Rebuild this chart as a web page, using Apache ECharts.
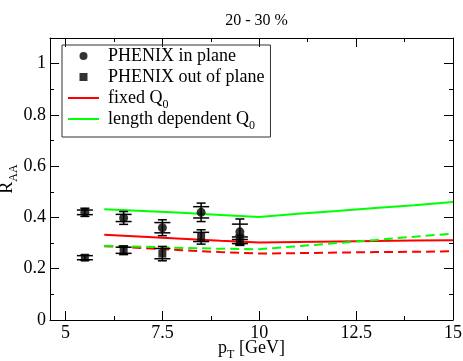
<!DOCTYPE html>
<html>
<head>
<meta charset="utf-8">
<script src="https://cdn.jsdelivr.net/npm/echarts@6/dist/echarts.min.js"></script>
<style>html,body{margin:0;padding:0;background:#fff}#c{width:463px;height:361px}</style>
</head>
<body>
<div id="c"></div>
<script>
// ---- data ----
const titleText = '20 - 30 %';
const phenixX = [5.5, 6.5, 7.5, 8.5, 9.5];
const inPlaneY = [0.42, 0.398, 0.36, 0.42, 0.344];
const inPlaneStat = [0.016, 0.025, 0.031, 0.036, 0.05];
const inPlaneSys = [0.009, 0.014, 0.02, 0.022, 0.03];
const outPlaneY = [0.243, 0.272, 0.259, 0.324, 0.311];
const outPlaneStat = [0.01, 0.017, 0.028, 0.028, 0.02];
const outPlaneSys = [0.008, 0.012, 0.02, 0.018, 0.013];
const theoryX = [6, 7, 8, 9, 10, 11, 12, 13, 14, 15];
const fixedSolid = [0.333, 0.325, 0.317, 0.309, 0.302, 0.304, 0.306, 0.308, 0.31, 0.311];
const lengthSolid = [0.432, 0.425, 0.418, 0.41, 0.402, 0.414, 0.425, 0.437, 0.448, 0.46];
const fixedDashed = [0.288, 0.281, 0.272, 0.265, 0.259, 0.261, 0.263, 0.265, 0.266, 0.268];
const lengthDashed = [0.29, 0.286, 0.281, 0.278, 0.276, 0.288, 0.3, 0.312, 0.325, 0.337];
const xMajor = [5, 7.5, 10, 12.5, 15];
const xMinor = [6.25, 8.75, 11.25, 13.75];
const yMajor = [0, 0.2, 0.4, 0.6, 0.8, 1];
const yMinor = [0.1, 0.3, 0.5, 0.7, 0.9];
const xMin = 4.6, xMax = 15, yMin = 0, yMax = 1.1;

const FONT = 'Liberation Serif';
const pair = (xs, ys) => xs.map((x, i) => [x, ys[i]]);
const errData = (ys, st, sy) => phenixX.map((x, i) => [x, ys[i], st[i], sy[i]]);

function xAx(pos, ticks, len, label, line) {
  return {
    type: 'value', position: pos, min: xMin, max: xMax,
    splitLine: {show: false},
    axisLine: {show: line, onZero: false, lineStyle: {color: '#000', width: 1}},
    axisTick: {show: true, inside: true, length: len, customValues: ticks, lineStyle: {color: '#000', width: 1}},
    axisLabel: label ? {show: true, customValues: ticks, margin: 4, color: '#000', fontFamily: FONT, fontSize: 18} : {show: false}
  };
}
function yAx(pos, ticks, len, label, line) {
  return {
    type: 'value', position: pos, min: yMin, max: yMax,
    splitLine: {show: false},
    axisLine: {show: line, onZero: false, lineStyle: {color: '#000', width: 1}},
    axisTick: {show: true, inside: true, length: len, customValues: ticks, lineStyle: {color: '#000', width: 1}},
    axisLabel: label ? {show: true, customValues: ticks, margin: 4, color: '#000', fontFamily: FONT, fontSize: 18} : {show: false}
  };
}

const nameRich = {
  a: {fontFamily: FONT, fontSize: 18, color: '#000', lineHeight: 26, verticalAlign: 'middle'},
  s: {fontFamily: FONT, fontSize: 12, color: '#000', lineHeight: 26, verticalAlign: 'bottom'}
};

const xAxes = [xAx('bottom', xMajor, 9, true, true), xAx('bottom', xMinor, 4, false, false),
               xAx('top', xMajor, 9, false, true), xAx('top', xMinor, 4, false, false)];
xAxes[0].name = '{a|p}{s|T}{a| [GeV]}';
xAxes[0].nameLocation = 'middle';
xAxes[0].nameGap = 15;
xAxes[0].nameMoveOverlap = false;
xAxes[0].nameTextStyle = {rich: nameRich};
const yAxes = [yAx('left', yMajor, 9, true, true), yAx('left', yMinor, 4, false, false),
               yAx('right', yMajor, 9, false, true), yAx('right', yMinor, 4, false, false)];
yAxes[0].name = '{a|R}{s|AA}';
yAxes[0].nameLocation = 'middle';
yAxes[0].nameGap = 30;
yAxes[0].nameMoveOverlap = false;
yAxes[0].nameTextStyle = {rich: nameRich};

function errRender(params, api) {
  const x = api.value(0), y = api.value(1), st = api.value(2), sy = api.value(3);
  const top = api.coord([x, y + st]), bot = api.coord([x, y - st]);
  const sTop = api.coord([x, y + sy]), sBot = api.coord([x, y - sy]);
  const nw = 4.5, ww = 8;
  const style = {stroke: '#000', lineWidth: 1.5};
  const L = (x1, y1, x2, y2) => ({type: 'line', shape: {x1, y1, x2, y2}, style});
  return {type: 'group', children: [
    L(top[0], top[1], bot[0], bot[1]),
    L(top[0] - nw, top[1], top[0] + nw, top[1]),
    L(bot[0] - nw, bot[1], bot[0] + nw, bot[1]),
    L(sTop[0] - ww, sTop[1], sTop[0] + ww, sTop[1]),
    L(sBot[0] - ww, sBot[1], sBot[0] + ww, sBot[1])
  ]};
}

const lineIcon = 'path://M0,0H31V2H0Z';
const squareIcon = 'path://M0,0H1V1H0Z';

const option = {
  animation: false,
  backgroundColor: '#fff',
  title: {text: titleText, left: 251.5, textAlign: 'center', top: 8,
    textStyle: {fontFamily: FONT, fontSize: 16, fontWeight: 'normal', color: '#000'}},
  grid: {left: 50, right: 10, top: 38, bottom: 41, containLabel: false, outerBoundsMode: 'none'},
  xAxis: xAxes,
  yAxis: yAxes,
  legend: {
    orient: 'vertical', left: 62, top: 45,
    data: [
      {name: 'PHENIX in plane', icon: 'circle', itemStyle: {color: '#000'}},
      {name: 'PHENIX out of plane', icon: squareIcon, itemStyle: {color: '#000'}},
      {name: 'fixed Q0', icon: lineIcon, itemStyle: {color: '#ff0000'}},
      {name: 'length dependent Q0', icon: lineIcon, itemStyle: {color: '#00ff00'}}
    ],
    symbolKeepAspect: true,
    borderColor: '#333', borderWidth: 1, borderRadius: 0,
    padding: [-2, 6, 5, 6], itemGap: -5, itemWidth: 31, itemHeight: 8,
    textStyle: {fontFamily: FONT, fontSize: 18, color: '#000', lineHeight: 26, padding: [0, 0, 0, 4],
      rich: {
        a: {fontFamily: FONT, fontSize: 18, color: '#000', lineHeight: 26, verticalAlign: 'middle'},
        s: {fontFamily: FONT, fontSize: 12, color: '#000', lineHeight: 26, verticalAlign: 'bottom'}
      }},
    formatter: n => '{a|' + n.replace(/Q0$/, 'Q}{s|0}').replace(/([^}])$/, '$1}'),
    selectedMode: false
  },
  series: [
    {name: 'fixed Q0', type: 'line', data: pair(theoryX, fixedSolid), symbol: 'none', lineStyle: {color: '#ff0000', width: 2}, itemStyle: {color: '#ff0000'}, z: 2},
    {name: 'length dependent Q0', type: 'line', data: pair(theoryX, lengthSolid), symbol: 'none', lineStyle: {color: '#00ff00', width: 2}, itemStyle: {color: '#00ff00'}, z: 2},
    {name: 'fixed Q0 dashed', type: 'line', data: pair(theoryX, fixedDashed), symbol: 'none', lineStyle: {color: '#ff0000', width: 2, type: [9, 5]}, z: 2},
    {name: 'length dependent Q0 dashed', type: 'line', data: pair(theoryX, lengthDashed), symbol: 'none', lineStyle: {color: '#00ff00', width: 2, type: [9, 5]}, z: 2},
    {name: 'in err', type: 'custom', renderItem: errRender, data: errData(inPlaneY, inPlaneStat, inPlaneSys), z: 3},
    {name: 'out err', type: 'custom', renderItem: errRender, data: errData(outPlaneY, outPlaneStat, outPlaneSys), z: 3},
    {name: 'PHENIX in plane', type: 'scatter', data: pair(phenixX, inPlaneY), symbol: 'circle', symbolSize: 9, itemStyle: {color: '#000'}, z: 4},
    {name: 'PHENIX out of plane', type: 'scatter', data: pair(phenixX, outPlaneY), symbol: 'rect', symbolSize: 8, itemStyle: {color: '#000'}, z: 4}
  ]
};
const chart = echarts.init(document.getElementById('c'), null, {renderer: 'canvas'});
chart.setOption(option);
</script>
</body>
</html>
